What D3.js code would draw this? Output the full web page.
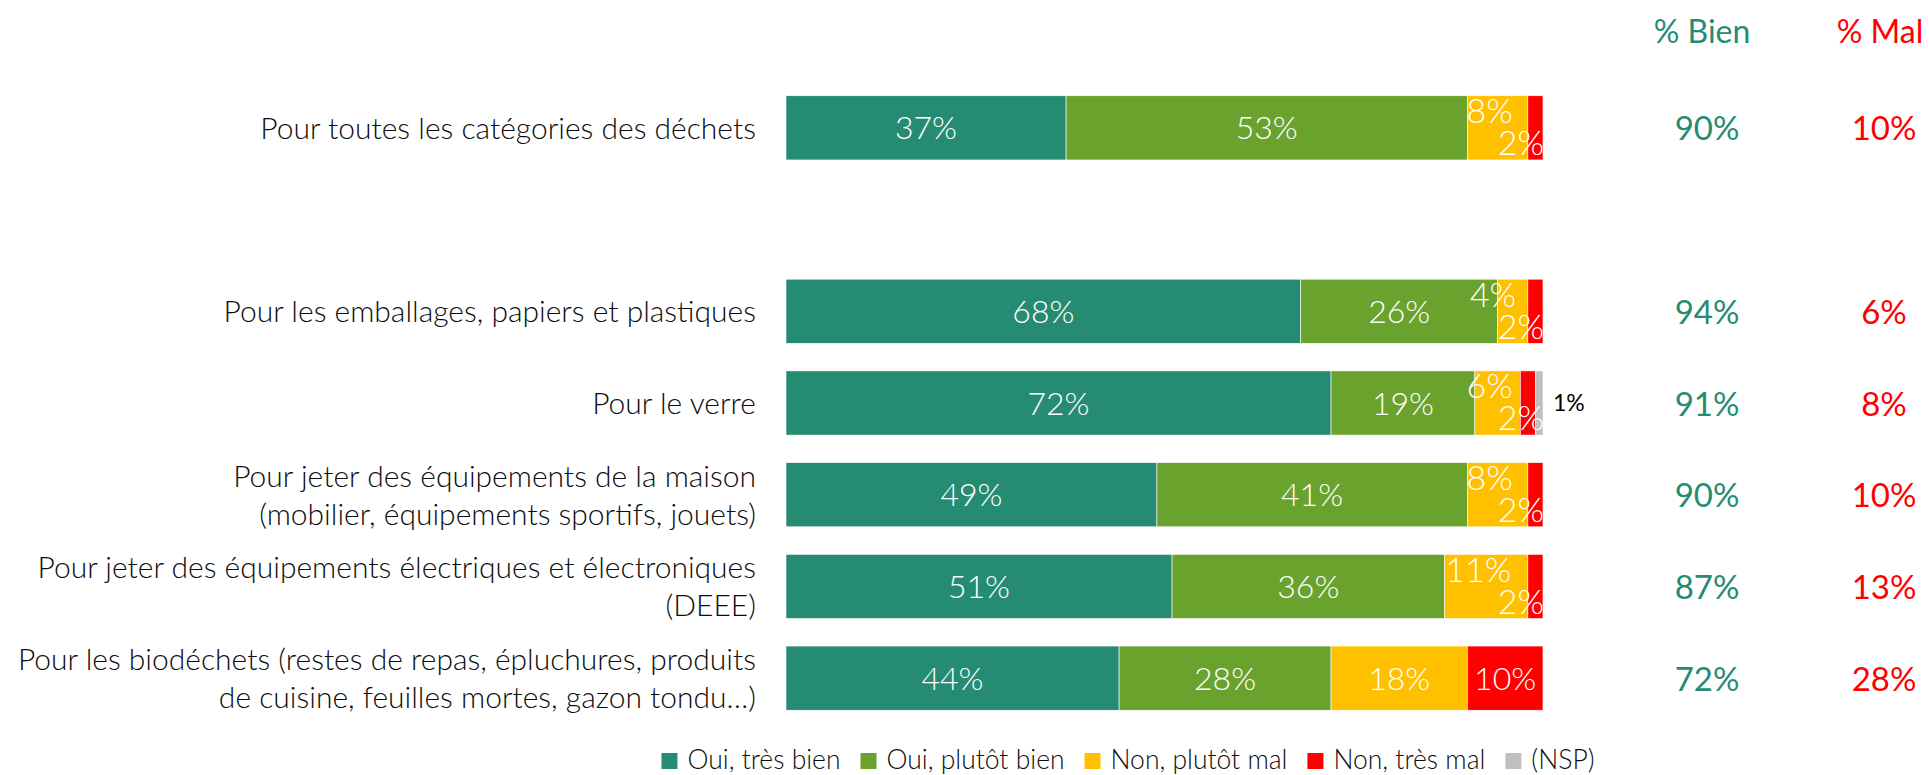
<!DOCTYPE html>
<html><head><meta charset="utf-8">
<script src="https://cdn.jsdelivr.net/npm/d3@7"></script>
<style>
html,body{margin:0;padding:0;background:#fff;}
svg{display:block;font-family:Lato,"Open Sans",sans-serif;}
</style></head>
<body>
<svg id="chart" width="1929" height="775"></svg>
<script>
// ---- data ----
const categories = [
  ["Pour toutes les catégories des déchets"],
  [],
  ["Pour les emballages, papiers et plastiques"],
  ["Pour le verre"],
  ["Pour jeter des équipements de la maison", "(mobilier, équipements sportifs, jouets)"],
  ["Pour jeter des équipements électriques et électroniques", "(DEEE)"],
  ["Pour les biodéchets (restes de repas, épluchures, produits", "de cuisine, feuilles mortes, gazon tondu…)"]
];
const seriesNames = ["Oui, très bien", "Oui, plutôt bien", "Non, plutôt mal", "Non, très mal", "(NSP)"];
const tresBien   = [37, null, 68, 72, 49, 51, 44];
const plutotBien = [53, null, 26, 19, 41, 36, 28];
const plutotMal  = [8,  null, 4,  6,  8,  11, 18];
const tresMal    = [2,  null, 2,  2,  2,  2,  10];
const nsp        = [0,  null, 0,  1,  0,  0,  0];
const pctBien    = [90, null, 94, 91, 90, 87, 72];
const pctMal     = [10, null, 6,  8,  10, 13, 28];
const colHeaders = ["% Bien", "% Mal"];

// ---- style ----
const colors = ["#268B73", "#6AA22E", "#FFC000", "#FF0000", "#BFBFBF"];
const svg = d3.select("#chart");
const x = d3.scaleLinear().domain([0, 100]).range([786, 1543]);
const slots = categories.map((d, i) => i);
const y = d3.scaleBand().domain(slots).range([82, 724]).paddingInner(0.3).paddingOuter(0.15);
const seriesVals = [tresBien, plutotBien, plutotMal, tresMal, nsp];

// bars
slots.forEach(i => {
  if (tresBien[i] == null) return;
  let acc = 0;
  const yc = y(i) + y.bandwidth() / 2;
  const segs = seriesVals.map((arr, s) => {
    const v = arr[i];
    const seg = {s, v, x0: acc, x1: acc + v};
    acc += v;
    return seg;
  }).filter(d => d.v > 0);
  const g = svg.append("g");
  g.selectAll("rect").data(segs).join("rect")
    .attr("x", d => x(d.x0)).attr("width", d => x(d.x1) - x(d.x0))
    .attr("y", y(i)).attr("height", y.bandwidth())
    .attr("fill", d => colors[d.s])
    .attr("stroke", "#ffffff").attr("stroke-width", 0.6);
  const smallRed = tresMal[i] <= 2;
  segs.forEach(d => {
    const cx = (x(d.x0) + x(d.x1)) / 2;
    if (d.s === 4) {
      g.append("text").attr("x", x(100) + 10).attr("y", yc).attr("dy", "0.36em")
        .attr("font-size", 23).attr("font-weight", 400).attr("fill", "#000")
        .text(d.v + "%");
      return;
    }
    let tx = cx, ty = yc, anchor = "middle", fs = 32;
    if (smallRed && d.s === 2) { tx = Math.min(cx - 8, x(100) - 50); ty = yc - 17; fs = 34; }
    if (smallRed && d.s === 3) { tx = x(100) + 1; anchor = "end"; ty = yc + 15; fs = 34; }
    g.append("text").attr("x", tx).attr("y", ty).attr("dy", "0.36em")
      .attr("text-anchor", anchor)
      .attr("font-size", fs).attr("font-weight", 300).attr("fill", "#ffffff")
      .text(d.v + "%");
  });

  // category label
  const lines = categories[i];
  const lh = 38;
  lines.forEach((ln, k) => {
    svg.append("text").attr("x", 756)
      .attr("y", yc + (k - (lines.length - 1) / 2) * lh).attr("dy", "0.36em")
      .attr("text-anchor", "end").attr("font-size", 30).attr("font-weight", 300)
      .attr("fill", "#0d0d0d").text(ln);
  });

  // % columns
  svg.append("text").attr("x", 1707).attr("y", yc).attr("dy", "0.38em")
    .attr("text-anchor", "middle").attr("font-size", 33).attr("fill", "#268B73")
    .text(pctBien[i] + "%");
  svg.append("text").attr("x", 1884).attr("y", yc).attr("dy", "0.38em")
    .attr("text-anchor", "middle").attr("font-size", 33).attr("fill", "#FF0000")
    .text(pctMal[i] + "%");
});

// headers
svg.append("text").attr("x", 1702).attr("y", 43).attr("text-anchor", "middle")
  .attr("font-size", 32).attr("fill", "#268B73").text(colHeaders[0]);
svg.append("text").attr("x", 1880).attr("y", 43).attr("text-anchor", "middle")
  .attr("font-size", 32).attr("fill", "#FF0000").text(colHeaders[1]);

// legend
const lg = svg.append("g");
let lx = 0;
seriesNames.forEach((name, s) => {
  const it = lg.append("g").attr("transform", `translate(${lx},0)`);
  it.append("rect").attr("x", 0).attr("y", 753).attr("width", 16).attr("height", 16).attr("fill", colors[s]);
  const t = it.append("text").attr("x", 26).attr("y", 769).attr("font-size", 26.5)
    .attr("font-weight", 300).attr("fill", "#0d0d0d").text(name);
  lx += 26 + t.node().getComputedTextLength() + 20;
});
const totalW = lx - 20;
lg.attr("transform", `translate(${1128 - totalW / 2},0)`);
</script>
</body></html>
